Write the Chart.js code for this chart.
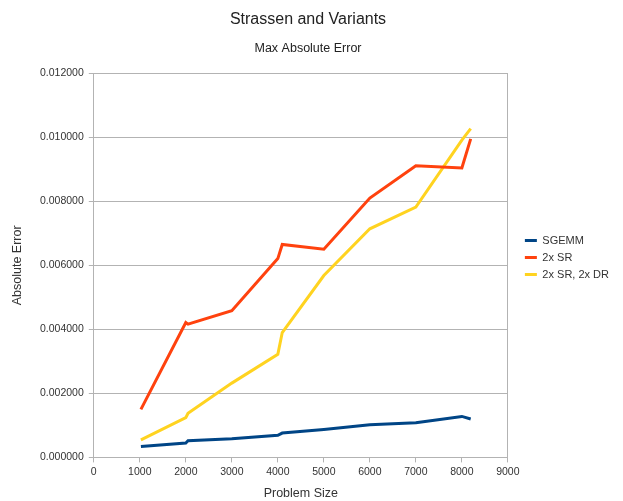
<!DOCTYPE html>
<html>
<head>
<meta charset="utf-8">
<script src="https://cdn.jsdelivr.net/npm/chart.js@4"></script>
<style>
  html, body { margin: 0; padding: 0; background: #fff; }
  #wrap { width: 623px; height: 501px; }
</style>
</head>
<body>
<div id="wrap"><canvas id="myChart" width="623" height="501"></canvas></div>
<script>
let sizes = [1024, 2000, 2048, 3000, 4000, 4096, 5000, 6000, 7000, 8000, 8192];
let sgemm = [0.00034, 0.00045, 0.00052, 0.00058, 0.00069, 0.00076, 0.00087, 0.00102, 0.00108, 0.00128, 0.00120];
let sr2 = [0.00150, 0.00421, 0.00416, 0.00458, 0.00621, 0.00665, 0.00650, 0.00810, 0.00911, 0.00904, 0.00995];
let srdr2 = [0.00055, 0.00124, 0.00138, 0.00232, 0.00322, 0.00390, 0.00568, 0.00714, 0.00782, 0.00991, 0.01027];
let seriesNames = ['SGEMM', '2x SR', '2x SR, 2x DR'];
let seriesColors = ['#004586', '#ff420e', '#ffd320'];

function points(vals) {
  return sizes.map((s, i) => ({x: s, y: vals[i]}));
}

let allSeries = [sgemm, sr2, srdr2];
let datasets = allSeries.map((vals, i) => ({
  label: seriesNames[i],
  data: points(vals),
  borderColor: seriesColors[i],
  backgroundColor: seriesColors[i],
  borderWidth: 3,
  pointRadius: 0,
  pointStyle: 'line',
  tension: 0
}));

// push the legend items a bit away from the plot
let legendShift = {
  id: 'legendShift',
  afterLayout(chart) {
    chart.legend.left += 11;
    chart.legend.right += 11;
    chart.legend.top += 4;
    chart.legend.bottom += 4;
  }
};

Chart.defaults.font.family = '"Liberation Sans", Arial, sans-serif';
Chart.defaults.color = '#333';

let ctx = document.getElementById('myChart').getContext('2d');
let myChart = new Chart(ctx, {
  type: 'line',
  data: { datasets: datasets },
  plugins: [legendShift],
  options: {
    responsive: false,
    animation: false,
    layout: { padding: { left: 8, right: 15, top: 6, bottom: 0 } },
    plugins: {
      title: {
        display: true,
        text: 'Strassen and Variants',
        font: { size: 16, weight: 'normal' },
        color: '#222',
        padding: { top: 4, bottom: 12 }
      },
      subtitle: {
        display: true,
        text: 'Max Absolute Error',
        font: { size: 12.5 },
        color: '#222',
        padding: { bottom: 17 }
      },
      legend: {
        position: 'right',
        labels: {
          usePointStyle: true,
          pointStyleWidth: 12,
          boxHeight: 3,
          padding: 6,
          font: { size: 11 },
          color: '#333'
        }
      },
      tooltip: { enabled: false }
    },
    scales: {
      x: {
        type: 'linear',
        min: 0,
        max: 9000,
        ticks: { stepSize: 1000, font: { size: 10.5 }, color: '#333', padding: 3, callback: (v) => String(v) },
        grid: {
          color: (c) => c.tick && c.tick.value === 9000 ? '#b3b3b3' : 'rgba(0,0,0,0)',
          tickColor: '#b3b3b3',
          tickLength: 5,
          lineWidth: 1
        },
        border: { color: '#b3b3b3' },
        title: { display: true, text: 'Problem Size', font: { size: 12.5 }, color: '#333', padding: { top: 5, bottom: 0 } }
      },
      y: {
        min: 0,
        max: 0.012,
        ticks: {
          stepSize: 0.002,
          font: { size: 10.5 },
          color: '#333',
          padding: 5,
          callback: (v) => v.toFixed(6)
        },
        grid: { color: '#b3b3b3', tickColor: '#b3b3b3', tickLength: 5 },
        border: { color: '#b3b3b3' },
        title: { display: true, text: 'Absolute Error', font: { size: 12.5 }, color: '#333', padding: { top: 2, bottom: 10 } }
      }
    }
  }
});
</script>
</body>
</html>
